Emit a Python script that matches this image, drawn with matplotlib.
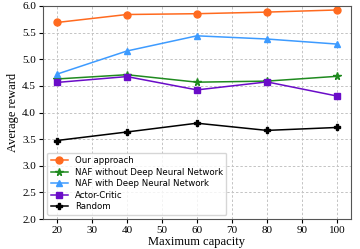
import matplotlib

matplotlib.use("Agg")

import matplotlib.pyplot as plt

capacity = [20, 40, 60, 80, 100]
our_approach = [5.69, 5.84, 5.855, 5.885, 5.925]
naf_without_dnn = [4.63, 4.71, 4.57, 4.59, 4.68]
naf_with_dnn = [4.72, 5.155, 5.44, 5.38, 5.285]
actor_critic = [4.565, 4.675, 4.425, 4.575, 4.31]
random_policy = [3.475, 3.635, 3.80, 3.665, 3.72]

series = [
    ("Our approach", our_approach, "#ff6a1f", "o", 5),
    ("NAF without Deep Neural Network", naf_without_dnn, "#1f8a1f", "*", 5.5),
    ("NAF with Deep Neural Network", naf_with_dnn, "#3d9bff", "^", 5),
    ("Actor-Critic", actor_critic, "#6a0cc8", "s", 5),
    ("Random", random_policy, "black", "P", 5),
]

fig = plt.figure(figsize=(3.6, 2.49), dpi=100)
ax = fig.add_axes([0.119, 0.12, 0.856, 0.856])

for label, values, color, marker, size in series:
    ax.plot(capacity, values, color=color, marker=marker, markersize=size,
            linewidth=1.1, label=label)

ax.set_ylim(2.0, 6.0)
ax.set_xticks([20, 30, 40, 50, 60, 70, 80, 90, 100])
ax.set_yticks([2.0, 2.5, 3.0, 3.5, 4.0, 4.5, 5.0, 5.5, 6.0])
ax.grid(True, linestyle=(0, (2.5, 2)), color="#c4c4c4", linewidth=0.7)
for spine in ax.spines.values():
    spine.set_color("#555555")

serif = "Liberation Serif"
for tick in ax.get_xticklabels() + ax.get_yticklabels():
    tick.set_fontfamily(serif)
    tick.set_fontsize(8)
ax.tick_params(length=3, pad=2)
ax.set_xlabel("Maximum capacity", fontfamily=serif, fontsize=9, labelpad=1)
ax.set_ylabel("Average reward", fontfamily=serif, fontsize=9, labelpad=2)

ax.legend(loc="lower left", fontsize=6.2, framealpha=0.8, handlelength=2.0,
          borderpad=0.4, labelspacing=0.3, bbox_to_anchor=(0.0, 0.0))

fig.savefig("out.png", dpi=100)
